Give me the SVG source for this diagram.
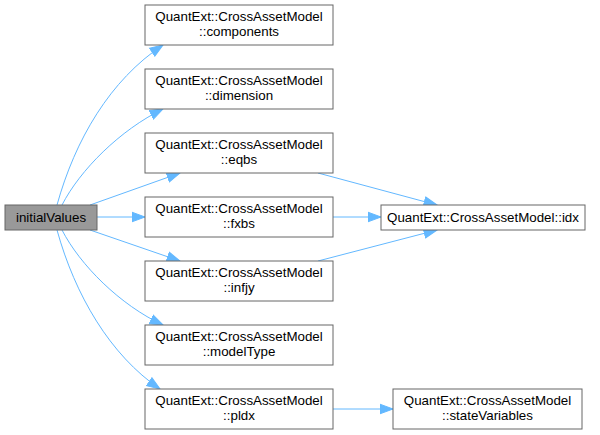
<svg xmlns="http://www.w3.org/2000/svg" width="600" height="435" viewBox="0 0 600 435">
<style>
.n rect{fill:#fff;stroke:#666;stroke-width:1}
.n.root rect{fill:#999}
text{font-family:"Liberation Sans",Arial,sans-serif;font-size:13.33px;fill:#000;text-anchor:middle}
.e path{fill:none;stroke:#63b8ff;stroke-width:1;marker-end:url(#ah)}
</style>
<defs>
<marker id="ah" markerUnits="userSpaceOnUse" markerWidth="15" markerHeight="12" refX="13.5" refY="6" orient="auto">
<path d="M0.5,1.2 L13.5,6 L0.5,10.8 Z" fill="#63b8ff" stroke="#63b8ff"/>
</marker>
</defs>
<rect width="600" height="435" fill="#fff"/>
<g id="edges" class="e">
<path d="M57,205 C75,140 110,80 163,45"/>
<path d="M62,205 C80,170 120,130 163,109"/>
<path d="M90,205 L180,173"/>
<path d="M97,217 L145,217"/>
<path d="M90,230 L180,261"/>
<path d="M62,230 C80,265 120,305 163,325"/>
<path d="M57,230 C75,295 110,355 160,389"/>
<path d="M318,173 L437,205"/>
<path d="M333,217 L381,217"/>
<path d="M318,261 L437,230"/>
<path d="M333,409 L393,409"/>
</g>
<g id="initialValues" class="n root"><rect x="5" y="205" width="92" height="25"/><text x="51" y="222">initialValues</text></g>
<g id="components" class="n"><rect x="145" y="5" width="188" height="40"/><text x="239" y="21">QuantExt::CrossAssetModel</text><text x="239" y="36">::components</text></g>
<g id="dimension" class="n"><rect x="145" y="69" width="188" height="40"/><text x="239" y="85">QuantExt::CrossAssetModel</text><text x="239" y="100">::dimension</text></g>
<g id="eqbs" class="n"><rect x="145" y="133" width="188" height="40"/><text x="239" y="149">QuantExt::CrossAssetModel</text><text x="239" y="164">::eqbs</text></g>
<g id="fxbs" class="n"><rect x="145" y="197" width="188" height="40"/><text x="239" y="213">QuantExt::CrossAssetModel</text><text x="239" y="228">::fxbs</text></g>
<g id="infjy" class="n"><rect x="145" y="261" width="188" height="40"/><text x="239" y="277">QuantExt::CrossAssetModel</text><text x="239" y="292">::infjy</text></g>
<g id="modelType" class="n"><rect x="145" y="325" width="188" height="40"/><text x="239" y="341">QuantExt::CrossAssetModel</text><text x="239" y="356">::modelType</text></g>
<g id="pldx" class="n"><rect x="145" y="389" width="188" height="40"/><text x="239" y="405">QuantExt::CrossAssetModel</text><text x="239" y="420">::pldx</text></g>
<g id="idx" class="n"><rect x="381" y="205" width="204" height="25"/><text x="483" y="222">QuantExt::CrossAssetModel::idx</text></g>
<g id="stateVariables" class="n"><rect x="393" y="389" width="189" height="40"/><text x="487.5" y="405">QuantExt::CrossAssetModel</text><text x="487.5" y="420">::stateVariables</text></g>
</svg>
